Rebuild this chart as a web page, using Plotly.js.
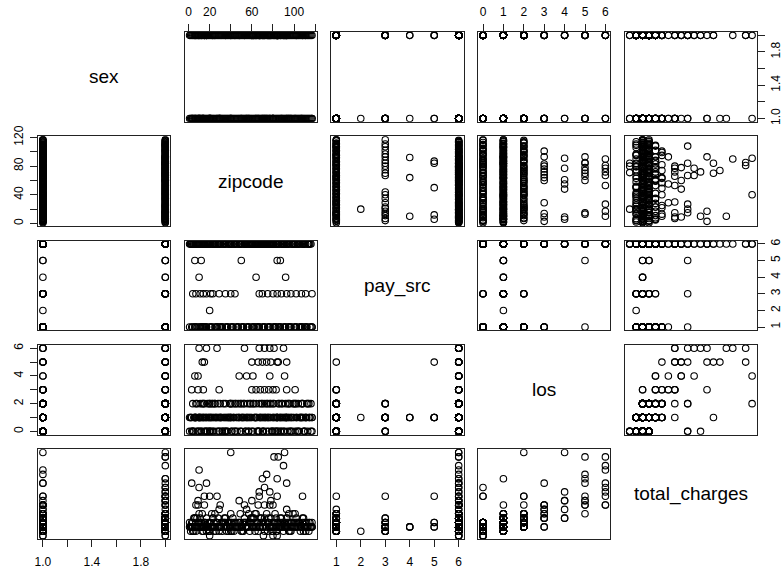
<!DOCTYPE html>
<html><head><meta charset="utf-8">
<script src="https://cdn.plot.ly/plotly-3.0.1.min.js"></script>
<style>body{margin:0;background:#fff}#chart{width:783px;height:570px}</style>
</head><body><div id="chart"></div>
<script>
// ---------- DATA (one row per record) ----------
const varNames = ["sex", "zipcode", "pay_src", "los", "total_charges"];

// bulk records, pass A (zipcodes 1..117)
const sexA = [1,2,1,2,1,2,1,2,1,2,1,2,1,2,1,2,1,2,1,2,1,2,1,2,1,2,1,2,1,2,1,2,1,2,1,2,1,2,1,2,1,2,1,2,1,2,1,2,1,2,1,2,1,2,1,2,1,2,1,2,1,2,1,2,1,2,1,2,1,2,1,2,1,2,1,2,1,2,1,2,1,2,1,2,1,2,1,2,1,2,1,2,1,2,1,2,1,2,1,2,1,2,1,2,1,2,1,2,1,2,1,2,1,2,1,2,1];
const zipA = [1,2,3,4,5,6,7,8,9,10,11,12,13,14,15,16,17,18,19,20,21,22,23,24,25,26,27,28,29,30,31,32,33,34,35,36,37,38,39,40,41,42,43,44,45,46,47,48,49,50,51,52,53,54,55,56,57,58,59,60,61,62,63,64,65,66,67,68,69,70,71,72,73,74,75,76,77,78,79,80,81,82,83,84,85,86,87,88,89,90,91,92,93,94,95,96,97,98,99,100,101,102,103,104,105,106,107,108,109,110,111,112,113,114,115,116,117];
const payA = [1,6,6,1,6,1,6,1,6,1,6,6,1,6,1,6,1,6,6,1,6,1,6,6,1,6,1,6,6,1,6,1,6,6,1,6,1,6,6,1,6,1,6,6,1,6,1,6,6,1,6,1,6,6,1,6,1,6,6,1,6,1,6,6,1,6,1,6,6,1,6,1,6,6,1,6,1,6,6,1,6,1,6,6,1,6,1,6,6,1,6,1,6,6,1,6,1,6,6,1,6,1,6,6,1,6,1,6,6,1,6,1,6,6,1,6,1];
const losA = [0,1,1,2,0,1,2,0,1,1,2,0,1,1,2,0,1,2,1,0,1,2,0,1,2,1,0,1,0,1,1,0,1,0,1,1,0,1,2,1,0,2,1,2,1,0,2,1,2,0,1,2,1,0,1,2,0,1,2,1,0,2,1,2,1,0,2,1,2,0,1,2,1,2,1,0,2,1,0,1,2,1,0,1,2,1,0,2,1,0,1,2,1,0,1,2,1,0,2,1,0,2,1,2,0,1,1,2,1,0,1,2,0,1,1,2,1];
const tcA = [1000,500,1500,1000,500,2000,1500,1000,1000,2500,2000,1500,500,1000,1500,1000,2000,1000,1500,500,1000,2500,1000,1500,1000,500,1500,2000,1000,1000,1500,500,1000,1500,2000,500,1000,1500,1000,1000,1500,2000,500,1000,1500,1000,1500,1000,2500,500,1000,1500,2000,1000,1500,1000,1500,500,2000,1000,1000,1500,2500,1000,1500,500,1000,2000,1500,1000,1000,2000,1500,2500,500,1500,1000,2000,1000,1500,1000,2500,500,1000,1500,1000,1000,2000,1500,500,1000,1500,2000,1000,1500,1000,500,1500,2500,1000,1000,2000,1500,1000,1500,500,1000,1500,2000,1000,1000,1500,1000,500,1500,1000,1000];

// bulk records, pass B (odd zipcodes)
const sexB = [2,2,2,2,2,2,2,2,2,2,2,2,2,2,2,2,2,2,2,2,2,2,2,2,2,2,2,2,2,2,2,2,2,2,2,2,2,2,2,2,2,2,2,2,2,2,2,2,2,2,2,2,2,2,2,2,2,2,2];
const zipB = [1,3,5,7,9,11,13,15,17,19,21,23,25,27,29,31,33,35,37,39,41,43,45,47,49,51,53,55,57,59,61,63,65,67,69,71,73,75,77,79,81,83,85,87,89,91,93,95,97,99,101,103,105,107,109,111,113,115,117];
const payB = [6,1,6,1,6,1,6,6,1,6,1,6,6,1,6,1,6,6,1,6,1,6,6,1,6,1,6,6,1,6,1,6,6,1,6,1,6,6,1,6,1,6,6,1,6,1,6,6,1,6,1,6,6,1,6,1,6,6,1];
const losB = [1,0,1,1,0,1,2,1,0,1,1,2,1,1,0,1,2,0,1,1,0,1,2,1,0,1,2,1,0,1,2,1,0,1,1,0,1,2,1,0,1,1,0,1,2,0,1,1,0,1,2,0,1,1,0,1,2,1,0];
const tcB = [1500,1000,2000,500,1500,1000,1000,1500,1000,500,1500,2000,1000,1500,500,1000,1500,1000,1500,1000,500,1500,1000,1000,1500,500,1500,1000,1000,1500,1000,500,1500,1000,2000,1500,1000,1500,1000,500,1500,1000,1000,2000,1000,1500,1000,500,1500,1000,1500,1000,1500,1000,500,1500,1000,1000,1500];

// bulk records, pass C (even zipcodes)
const sexC = [1,1,1,1,1,1,1,1,1,1,1,1,1,1,1,1,1,1,1,1,1,1,1,1,1,1,1,1,1,1,1,1,1,1,1,1,1,1,1,1,1,1,1,1,1,1,1,1,1,1,1,1,1,1,1,1,1,1];
const zipC = [2,4,6,8,10,12,14,16,18,20,22,24,26,28,30,32,34,36,38,40,42,44,46,48,50,52,54,56,58,60,62,64,66,68,70,72,74,76,78,80,82,84,86,88,90,92,94,96,98,100,102,104,106,108,110,112,114,116];
const payC = [6,6,1,6,6,1,6,1,6,6,1,6,1,6,6,1,6,1,6,6,1,6,1,6,6,1,6,1,6,6,1,6,1,6,6,1,6,1,6,6,1,6,1,6,6,1,6,1,6,6,1,6,1,6,6,1,6,1];
const losC = [1,0,1,2,1,0,1,1,0,2,1,0,1,2,1,0,1,0,1,2,1,0,1,1,2,1,0,1,2,0,1,1,0,1,2,1,0,1,2,1,0,1,2,0,1,1,2,0,1,2,1,0,1,1,0,1,2,0];
const tcC = [1000,1500,1000,2000,1500,1000,500,1500,1000,1500,1000,500,1500,1000,1000,1500,2000,1000,500,1500,1000,1500,1000,1500,1000,500,1500,1000,1500,1000,2000,1000,1500,1000,1500,500,1000,1500,1000,500,1500,1500,1000,1000,1500,1000,1500,500,1000,1500,1000,1500,1000,2000,1500,1000,1500,1000];

// notable records (outliers, rare pay sources, long stays)
const sexN = [2,1,2,1, 2,2,1,2,2,2,1,2,1, 2,1,2,1,2,2,1,1,2,2, 2,2,2,1,2,1,2, 1,2,1,2,1,2,1,2,1,2,1,2,1, 1,2,1,1, 2,1, 2,2,2, 2,1,2,1, 1,2,1,2, 1,2,2, 1, 1,2,1,1,2,1,2,1,2,1,2,1,2,1,2,1,2,1,2,1,2,1];
const zipN = [84,80,71,20, 90,81,10,17,72,67,27,53,77, 85,74,70,93,84,60,66,13,15,78, 91,77,48,55,6,9,61, 3,93,29,9,14,60,64,68,72,76,80,83,101, 40,108,30,20, 84,7, 10,67,15, 40,95,25,57, 6,12,50,87, 10,64,92, 20, 4,7,11,14,17,21,23,29,35,40,44,70,75,80,84,88,93,97,102,107,111,117];
const payN = [6,6,6,6, 6,6,6,6,6,6,6,6,6, 6,6,6,6,5,6,6,1,6,6, 6,6,6,6,6,6,6, 6,6,1,6,1,6,1,6,6,6,6,1,6, 6,1,6,6, 6,6, 6,3,6, 6,1,6,6, 5,5,5,5, 4,4,4, 2, 3,3,3,3,3,3,3,3,3,3,3,3,3,3,3,3,3,3,3,3,3,3];
const losN = [0,0,0,0, 6,6,6,6,6,6,6,6,6, 5,5,5,5,5,5,5,5,5,5, 4,4,4,4,4,4,4, 3,3,3,3,3,3,3,3,3,3,3,3,3, 2,2,2,2, 1,1, 0,0,0, 1,2,2,1, 1,1,1,1, 1,1,1, 1, 0,1,1,2,1,0,1,1,2,1,0,1,1,2,1,1,1,1,1,2,1,1];
const tcN = [0,0,0,0, 8000,9000,7500,6000,5500,5000,4500,3500,3500, 9000,7000,6500,6000,4500,4000,3500,2500,3500,4000, 9500,5000,4000,3000,2000,4000,2000, 6000,3000,3000,3500,1000,2000,2500,1000,3500,2000,3500,2000,2500, 9500,4500,3500,4500, 6500,3500, 5500,4500,4500, 2500,2500,2500,2500, 1000,1500,1000,1500, 1000,1000,1000, 500, 500,1000,1500,1000,500,1000,2000,1000,1500,500,1000,1000,1500,1000,500,1000,2000,1000,1500,1000,500,1000];

const sex = [].concat(sexA, sexB, sexC, sexN);
const zipcode = [].concat(zipA, zipB, zipC, zipN);
const pay_src = [].concat(payA, payB, payC, payN);
const los = [].concat(losA, losB, losC, losN);
const total_charges = [].concat(tcA, tcB, tcC, tcN);

// tick values / labels (R drops labels that would overlap)
const sexTicks = [1.0, 1.2, 1.4, 1.6, 1.8, 2.0];
const sexTickText = ["1.0", "", "1.4", "", "1.8", ""];
const zipTicksTop = [0, 20, 40, 60, 80, 100, 120];
const zipTickTextTop = ["0", "20", "", "60", "", "100", ""];
const zipTickTextLeft = ["0", "", "40", "", "80", "", "120"];
const payTicks = [1, 2, 3, 4, 5, 6];
const payTickText = ["1", "2", "3", "4", "5", "6"];
const losTicksTop = [0, 1, 2, 3, 4, 5, 6];
const losTickTextTop = ["0", "1", "2", "3", "4", "5", "6"];
const losTickTextLeft = ["0", "", "2", "", "4", "", "6"];
const tcTicks = [0, 2000, 4000, 6000, 8000];
const tcTickText = ["0", "", "4000", "", "8000"];
const tcTickTextRight = ["0", "", "4000", "", ""];

// ---------- LAYOUT ----------
const W = 783, H = 570;
const colPx = [[38, 170.2], [184.7, 316.9], [331.4, 463.6], [478.1, 610.3], [624.8, 757]];
const rowPx = [[32, 121.8], [136.3, 226.1], [240.6, 330.4], [344.9, 434.7], [449.2, 539]];
const cols = [sex, zipcode, pay_src, los, total_charges];

function padRange(arr) {
  let mn = Infinity, mx = -Infinity;
  for (const v of arr) { if (v < mn) mn = v; if (v > mx) mx = v; }
  const d = (mx - mn) * 0.04;
  return [mn - d, mx + d];
}
const ranges = cols.map(padRange);

const FONT = "Liberation Sans, Arial, Helvetica, sans-serif";
const tickSpec = {
  top: { 1: [zipTicksTop, zipTickTextTop], 3: [losTicksTop, losTickTextTop] },
  bottom: { 0: [sexTicks, sexTickText], 2: [payTicks, payTickText], 4: [tcTicks, tcTickText] },
  left: { 1: [zipTicksTop, zipTickTextLeft], 3: [losTicksTop, losTickTextLeft] },
  right: { 0: [sexTicks, sexTickText], 2: [payTicks, payTickText], 4: [tcTicks, tcTickTextRight] }
};

const traces = [];
const layout = {
  width: W, height: H, margin: { l: 0, r: 0, t: 0, b: 0 },
  paper_bgcolor: "#fff", plot_bgcolor: "#fff", showlegend: false,
  font: { family: FONT, color: "#000", size: 12 },
  annotations: []
};

function baseAxis() {
  return {
    showline: true, mirror: true, linecolor: "#222", linewidth: 1,
    showgrid: false, zeroline: false, ticks: "", showticklabels: false,
    fixedrange: true
  };
}

for (let i = 0; i < 5; i++) {
  for (let j = 0; j < 5; j++) {
    const k = i * 5 + j + 1;
    const xn = "x" + (k === 1 ? "" : k), yn = "y" + (k === 1 ? "" : k);
    const xa = baseAxis(), ya = baseAxis();
    xa.domain = [colPx[j][0] / W, colPx[j][1] / W];
    ya.domain = [1 - rowPx[i][1] / H, 1 - rowPx[i][0] / H];
    xa.anchor = yn; ya.anchor = xn;
    xa.range = ranges[j]; ya.range = ranges[i];
    const tickCommon = { ticks: "outside", ticklen: 7, tickwidth: 1, tickcolor: "#222",
      showticklabels: true, tickmode: "array", tickfont: { size: 12, color: "#000", family: FONT } };
    if (i === 0 && tickSpec.top[j]) {
      Object.assign(xa, tickCommon, { side: "top", tickvals: tickSpec.top[j][0], ticktext: tickSpec.top[j][1], tickangle: 0, ticklabelstandoff: 3 });
    }
    if (i === 4 && tickSpec.bottom[j]) {
      Object.assign(xa, tickCommon, { side: "bottom", tickvals: tickSpec.bottom[j][0], ticktext: tickSpec.bottom[j][1], tickangle: 0, ticklabelstandoff: 5 });
    }
    if (j === 0 && tickSpec.left[i]) {
      Object.assign(ya, tickCommon, { side: "left", tickvals: tickSpec.left[i][0], ticktext: tickSpec.left[i][1], tickangle: -90, ticklabelstandoff: 2 });
    }
    if (j === 4 && tickSpec.right[i]) {
      Object.assign(ya, tickCommon, { side: "right", tickvals: tickSpec.right[i][0], ticktext: tickSpec.right[i][1], tickangle: -90, ticklabelstandoff: 1 });
    }
    layout["xaxis" + (k === 1 ? "" : k)] = xa;
    layout["yaxis" + (k === 1 ? "" : k)] = ya;

    if (i === j) {
      layout.annotations.push({
        xref: "paper", yref: "paper",
        x: (xa.domain[0] + xa.domain[1]) / 2, y: (ya.domain[0] + ya.domain[1]) / 2,
        text: varNames[i], showarrow: false, xanchor: "center", yanchor: "middle",
        font: { size: 19, color: "#000", family: FONT }
      });
    } else {
      traces.push({
        type: "scatter", mode: "markers", x: cols[j], y: cols[i], xaxis: xn, yaxis: yn,
        hoverinfo: "skip", cliponaxis: true,
        marker: { symbol: "circle-open", size: 6.5, color: "#000", line: { width: 1.1, color: "#000" } }
      });
    }
  }
}

Plotly.newPlot("chart", traces, layout, { displayModeBar: false, staticPlot: true });
</script>
</body></html>
